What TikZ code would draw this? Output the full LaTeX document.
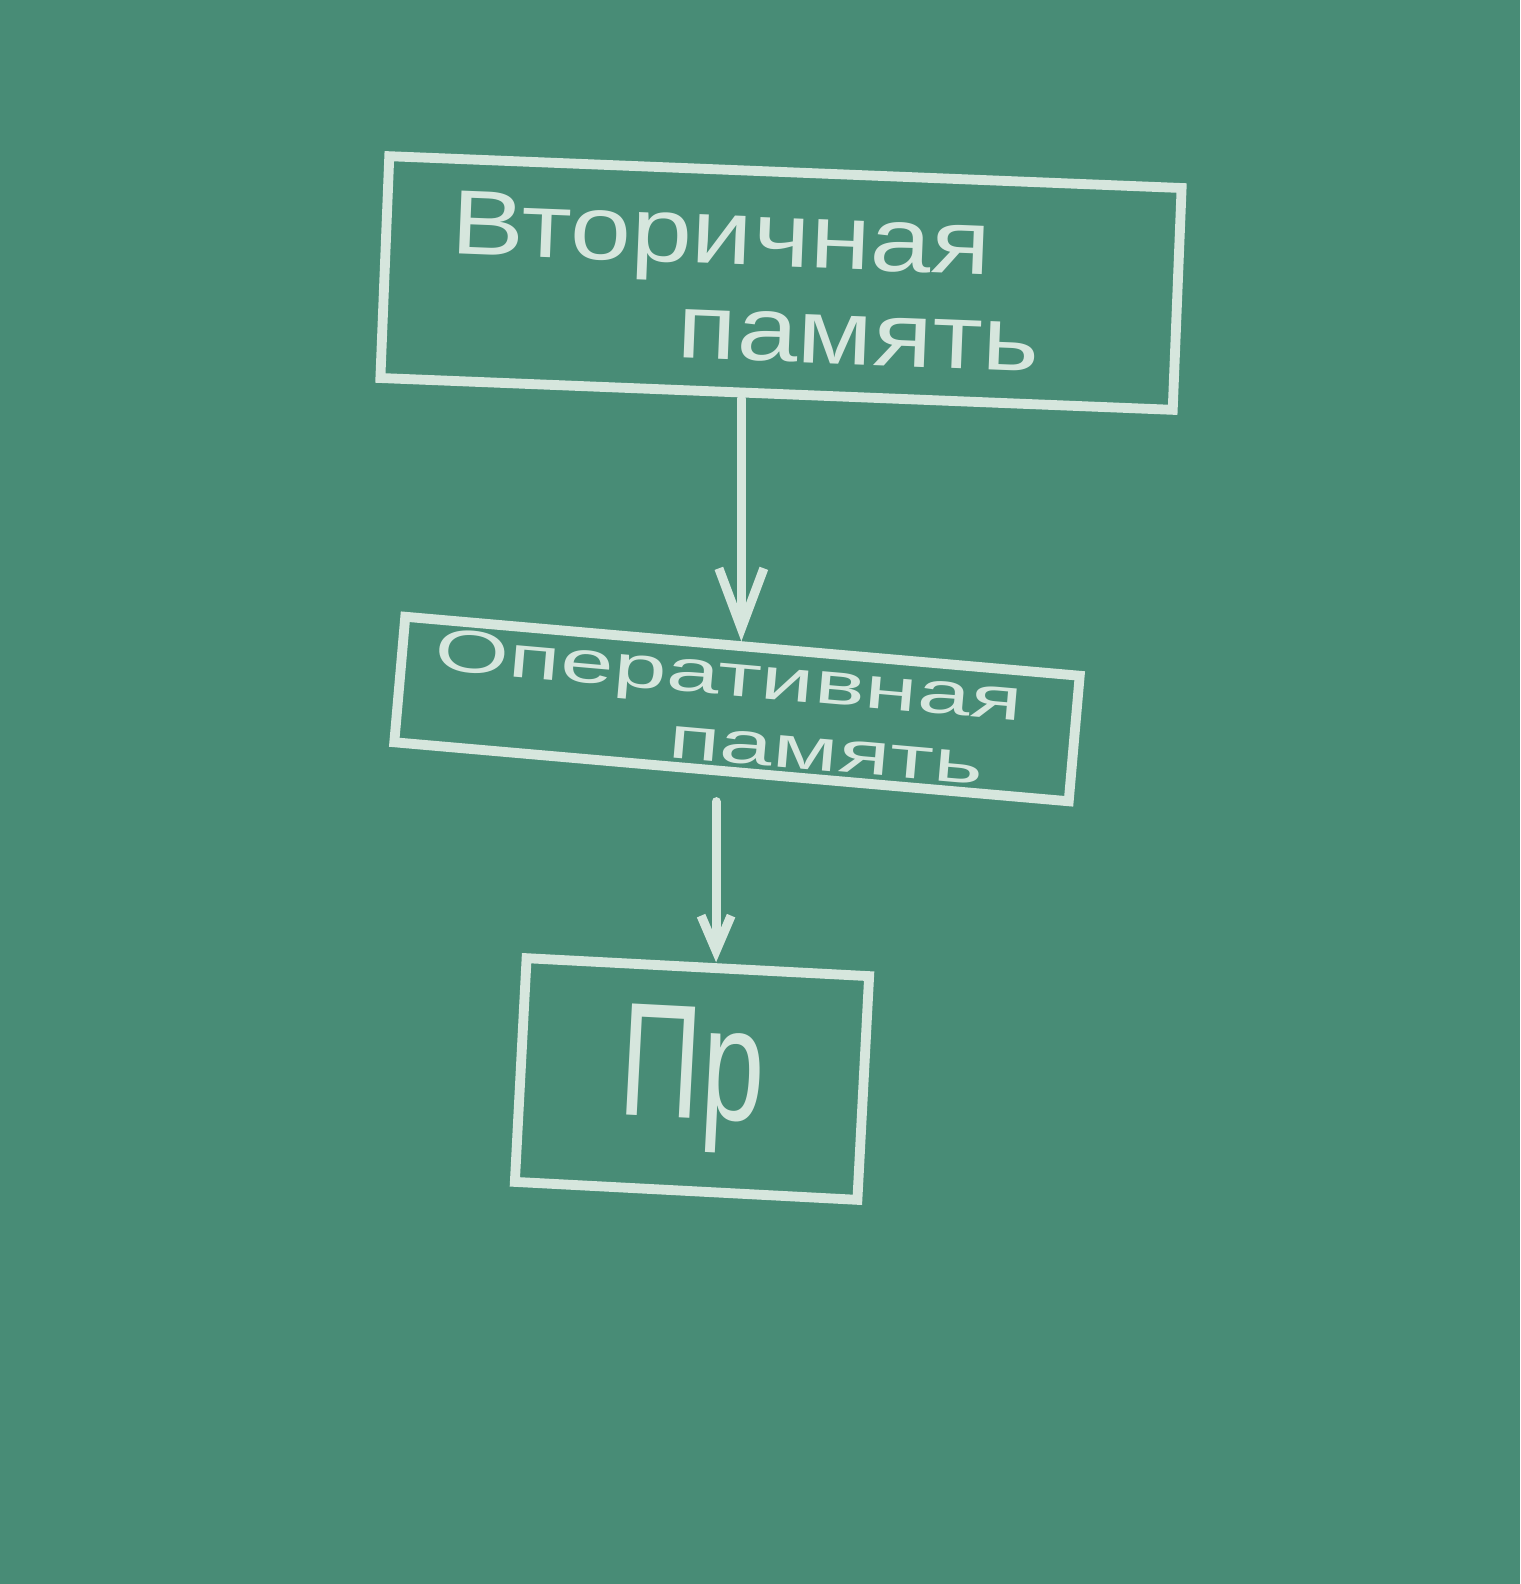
\documentclass[tikz,border=0pt]{standalone}
\usepackage{fontspec}
\setmainfont{Liberation Sans}
\newfontfamily\chalk[FakeStretch=1.2]{Liberation Sans}
\newfontfamily\chalkwide[FakeStretch=1.6]{Liberation Sans}
\newfontfamily\chalknarrow[FakeStretch=0.7]{Liberation Sans}
\usetikzlibrary{calc,arrows.meta}

\definecolor{board}{RGB}{72,140,118}
\definecolor{chalkline}{RGB}{214,230,221}

\begin{document}
\begin{tikzpicture}[
    box/.style={draw=chalkline, line width=2.8pt, text=chalkline, inner sep=0pt},
    arr/.style={draw=chalkline, line width=2.6pt, line cap=round}
  ]
    % Board
    \fill[board] (0,0) rectangle (15.2,-15.84);
    \useasboundingbox (0,0) rectangle (15.2,-15.84);

    % Define the centres of the boxes
    \coordinate (S) at (7.81,-2.83);
    \coordinate (R) at (7.37,-7.09);
    \coordinate (P) at (6.92,-10.79);

    % Draw the boxes
    \node[box, rotate=-2.3, minimum width=7.93cm, minimum height=2.22cm,
          align=left, font=\chalk\fontsize{26}{27}\selectfont] (sec) at (S)
          {Вторичная\\\hspace*{2.3cm}память\hspace*{0.7cm}};
    \node[box, rotate=-5, minimum width=6.77cm, minimum height=1.26cm,
          align=left, font=\chalkwide\fontsize{17}{19}\selectfont] (ram) at (R)
          {Оперативная\\\hspace*{2.4cm}память\hspace*{0.55cm}};
    \node[box, rotate=-3, minimum width=3.43cm, minimum height=2.24cm,
          font=\chalknarrow\fontsize{46}{46}\selectfont] (cpu) at (P) {Пр};

    % Start points of the arrows
    \coordinate (a1) at ($(sec.south)+(-0.35,0)$);
    \coordinate (a2) at ($(ram.south)+(-0.15,-0.25)$);

    % Draw the arrows between the boxes
    \draw[arr, -{Straight Barb[length=6mm,width=4.5mm,line width=2.6pt]}] (a1) -- (a1 |- ram.north);
    \draw[arr, -{Straight Barb[length=3.5mm,width=3mm,line width=2.6pt]}] (a2) -- (a2 |- cpu.north);

\end{tikzpicture}
\end{document}
